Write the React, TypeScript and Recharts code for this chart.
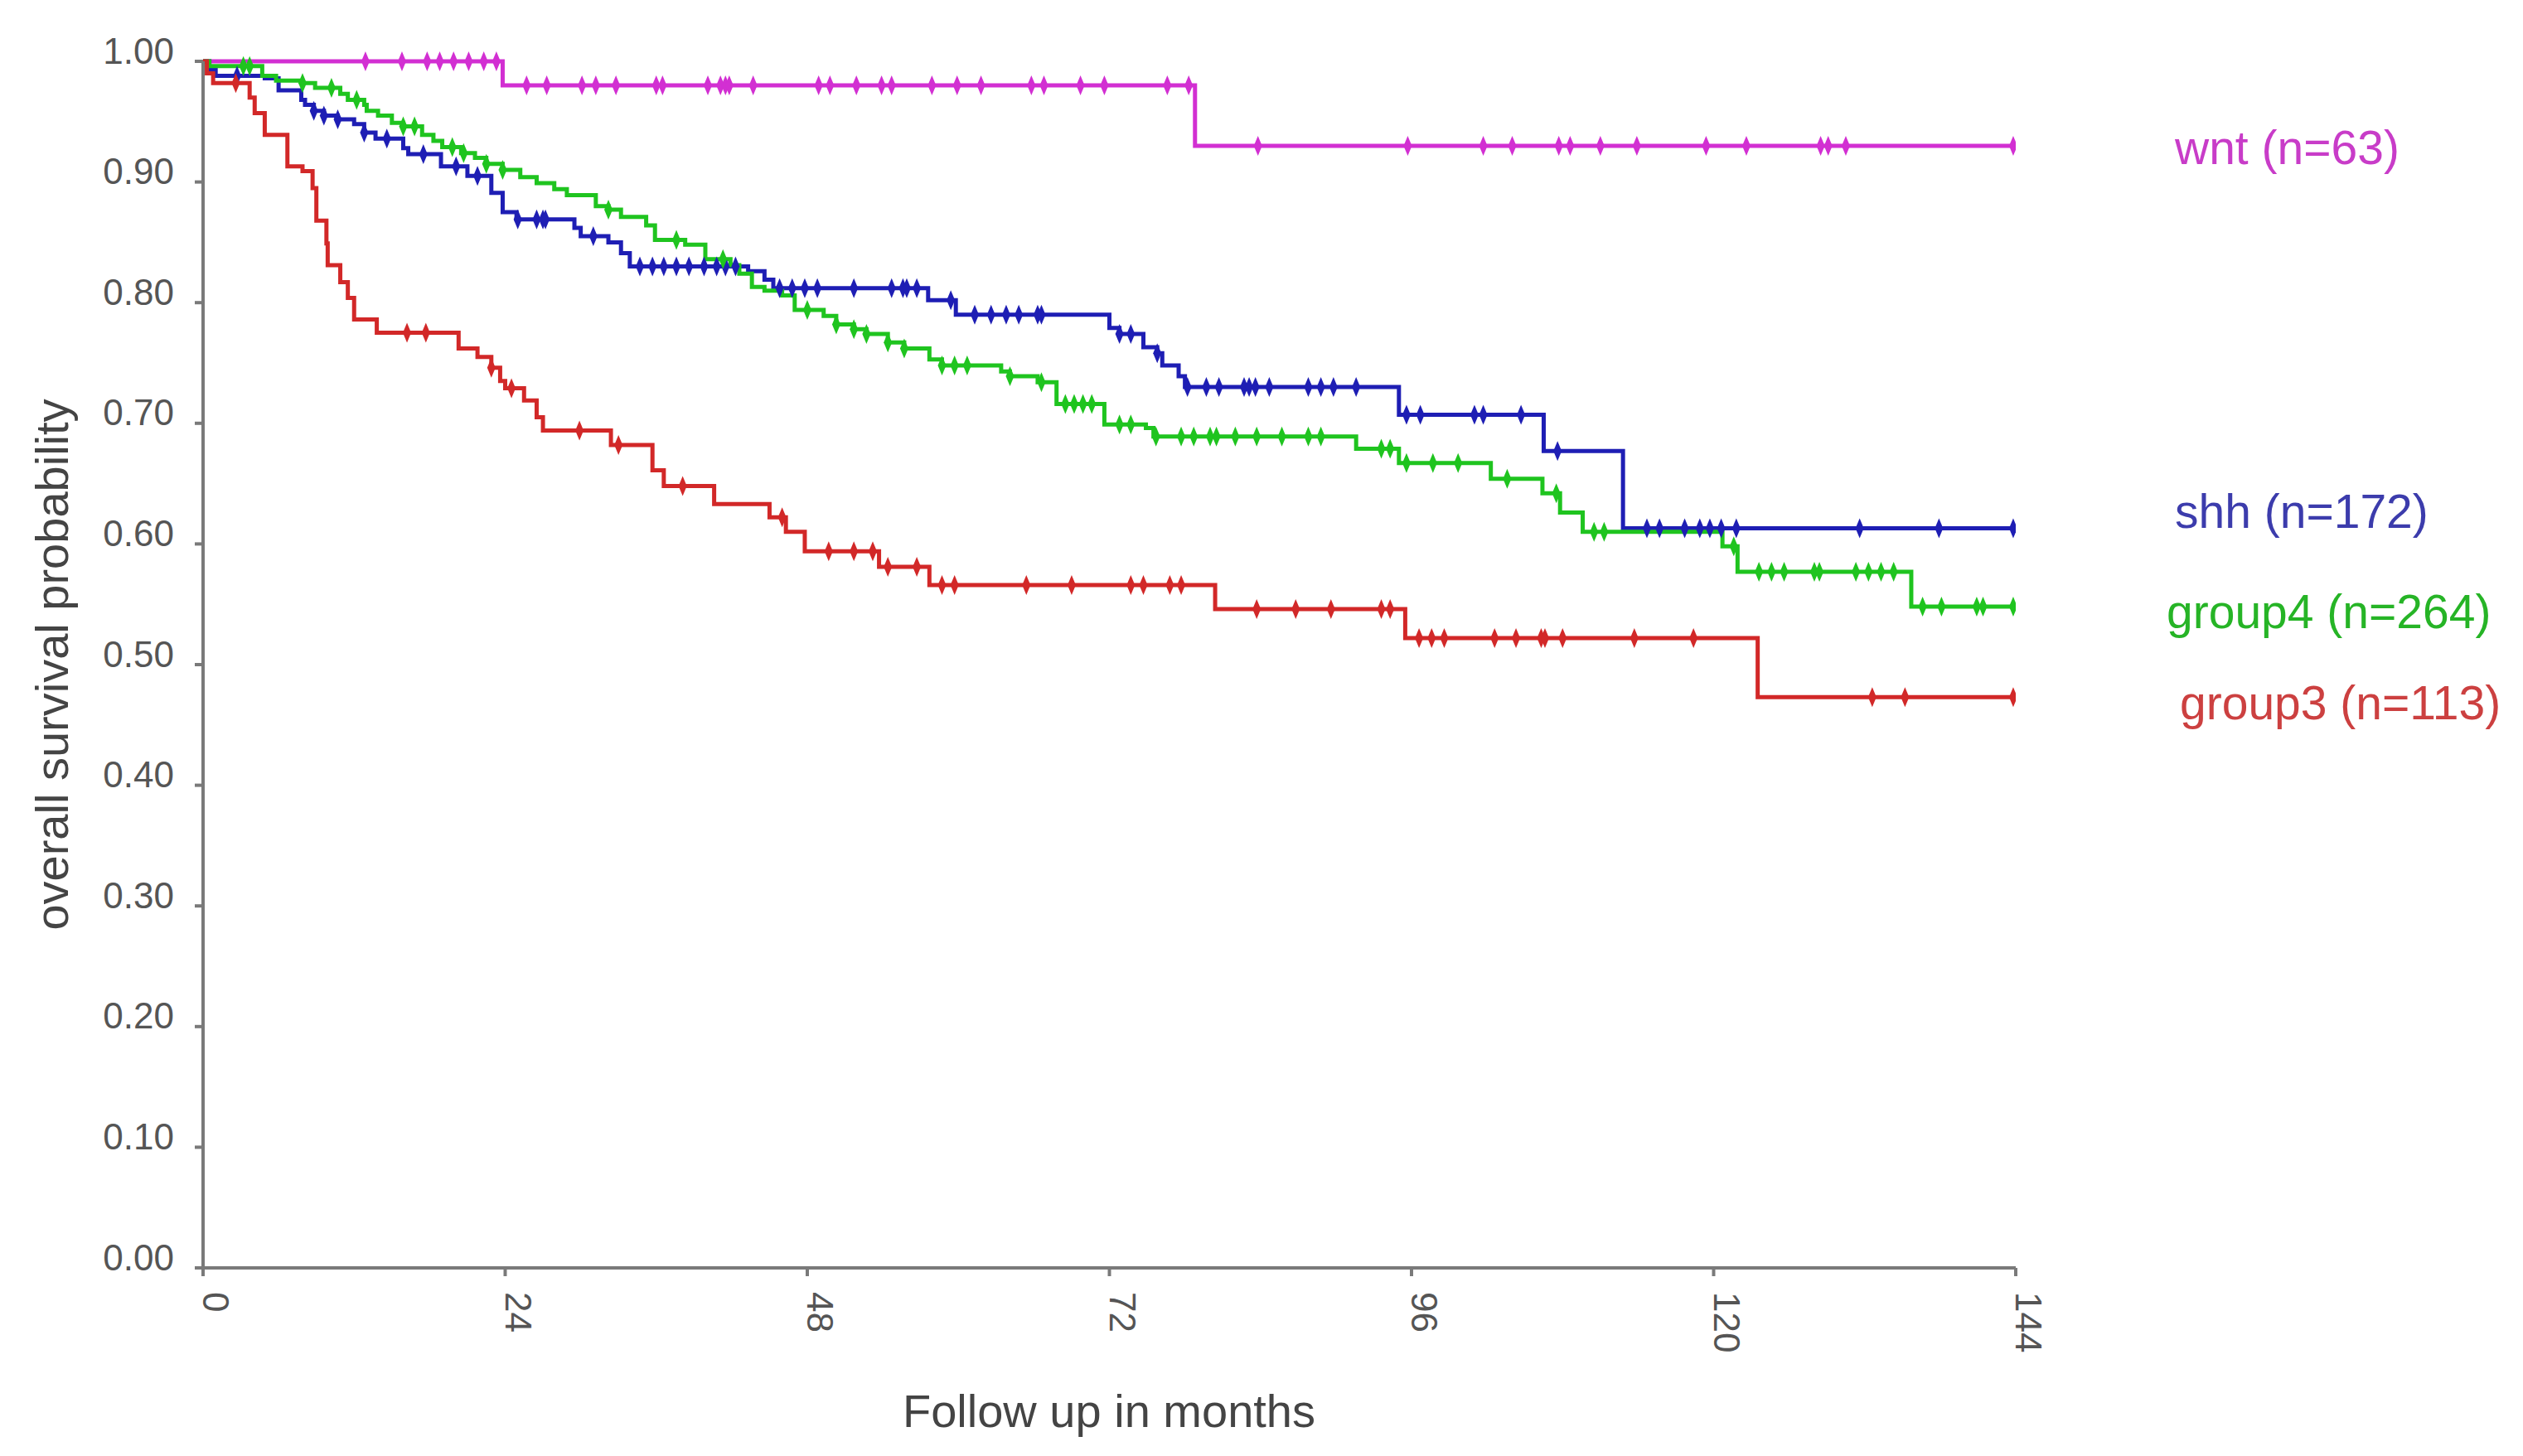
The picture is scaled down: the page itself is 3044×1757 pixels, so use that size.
import React from "react"
import { ComposedChart, Line, Scatter, XAxis, YAxis } from "recharts"

// step points: time (months) where survival changes, and the new value
const wntTimes = [0, 23.8, 78.8, 144]
const wntSurv = [1, 0.98, 0.93, 0.93]
const wntCensored = [
  12.9, 15.8, 17.8, 18.8, 19.9, 21.1, 22.3, 23.3, 25.7, 27.3, 30.1, 31.2, 32.8, 36.0, 36.5, 40.1, 41.1, 41.5,
  41.8, 43.7, 48.9, 49.8, 51.9, 53.9, 54.7, 57.9, 59.9, 61.8, 65.8, 66.8, 69.7, 71.6, 76.6, 78.3, 83.8, 95.7,
  101.7, 104.0, 107.7, 108.6, 111.0, 113.9, 119.4, 122.6, 128.5, 129.1, 130.5, 143.8,
]

const shhTimes = [
  0, 0.5, 1.0, 4.9, 6.0, 7.8, 8.1, 8.8, 9.6, 10.7, 12.0, 12.8, 13.7, 15.9, 16.3, 18.9, 21.0, 22.9, 23.8, 24.9,
  29.5, 30.0, 32.2, 33.2, 33.9, 43.3, 44.6, 45.3, 57.6, 59.8, 72.0, 72.8, 74.7, 75.8, 76.2, 77.5, 78.0, 95.0,
  106.5, 112.8, 144,
]
const shhSurv = [
  1, 0.993, 0.988, 0.986, 0.976, 0.968, 0.964, 0.959, 0.955, 0.952, 0.948, 0.941, 0.936, 0.928, 0.923, 0.913,
  0.905, 0.891, 0.875, 0.869, 0.862, 0.855, 0.85, 0.841, 0.83, 0.826, 0.819, 0.812, 0.802, 0.79, 0.779, 0.774,
  0.763, 0.758, 0.748, 0.739, 0.73, 0.707, 0.677, 0.613, 0.613,
]
const shhCensored = [
  2.7, 8.8, 9.6, 10.7, 12.8, 14.6, 17.5, 20.1, 21.8, 25.0, 26.5, 27.0, 27.2, 31.0, 34.7, 35.7, 36.6, 37.6, 38.6,
  39.8, 40.8, 41.5, 42.3, 45.8, 46.8, 47.8, 48.8, 51.7, 54.7, 55.6, 55.9, 56.7, 59.4, 61.3, 62.6, 63.8, 64.8,
  66.3, 66.6, 72.8, 73.7, 75.8, 78.2, 79.7, 80.7, 82.7, 83.1, 83.6, 84.7, 87.8, 88.8, 89.8, 91.6, 95.6, 96.7,
  101.0, 101.7, 104.7, 107.6, 114.7, 115.7, 117.7, 118.9, 119.7, 120.6, 121.8, 131.6, 137.9, 143.8,
]

const group4Times = [
  0, 0.5, 4.7, 5.8, 7.8, 8.9, 10.9, 11.5, 12.8, 13.0, 13.9, 15.0, 15.9, 17.4, 18.3, 19.0, 20.5, 21.6, 22.5, 23.8,
  25.2, 26.5, 27.9, 28.9, 31.2, 32.2, 33.2, 35.2, 35.9, 38.3, 39.9, 41.9, 42.6, 43.6, 44.6, 46.0, 47.0, 49.3,
  50.3, 51.7, 52.7, 54.4, 55.7, 57.7, 58.7, 63.4, 64.1, 66.3, 67.8, 71.6, 74.9, 75.5, 91.6, 95.0, 102.3, 106.4,
  107.8, 109.6, 120.7, 121.9, 135.7, 144,
]
const group4Surv = [
  1, 0.996, 0.988, 0.984, 0.982, 0.978, 0.973, 0.968, 0.964, 0.959, 0.955, 0.949, 0.946, 0.939, 0.934, 0.929,
  0.924, 0.92, 0.915, 0.91, 0.904, 0.899, 0.894, 0.889, 0.88, 0.877, 0.871, 0.864, 0.852, 0.848, 0.836, 0.831,
  0.824, 0.813, 0.81, 0.806, 0.794, 0.789, 0.782, 0.778, 0.774, 0.767, 0.762, 0.753, 0.748, 0.743, 0.739, 0.734,
  0.716, 0.699, 0.696, 0.689, 0.679, 0.667, 0.654, 0.642, 0.626, 0.61, 0.598, 0.577, 0.548, 0.548,
]
const group4Censored = [
  3.2, 3.7, 7.9, 10.2, 12.2, 15.9, 16.8, 19.8, 20.7, 22.5, 23.8, 32.2, 37.6, 41.3, 48.0, 50.3, 51.7, 52.7, 54.4,
  55.7, 58.7, 59.7, 60.7, 64.1, 66.6, 68.5, 69.2, 69.9, 70.6, 72.8, 73.7, 75.7, 77.7, 78.7, 80.0, 80.5, 82.0,
  83.7, 85.7, 87.8, 88.8, 93.6, 94.3, 95.6, 97.7, 99.7, 103.6, 107.5, 110.5, 111.3, 121.6, 123.6, 124.6, 125.6,
  128.0, 128.4, 131.3, 132.3, 133.3, 134.3, 136.6, 138.1, 140.9, 141.4, 143.8,
]

const group3Times = [
  0, 0.3, 0.8, 3.7, 4.1, 4.9, 6.7, 7.9, 8.7, 9.0, 9.8, 9.9, 10.9, 11.5, 12.0, 13.8, 20.3, 21.8, 22.9, 23.6, 24.0,
  25.5, 26.5, 27.0, 32.4, 35.7, 36.6, 40.6, 45.0, 46.3, 47.8, 53.7, 57.7, 80.4, 95.5, 123.5, 144,
]
const group3Surv = [
  1, 0.99, 0.982, 0.97, 0.957, 0.939, 0.913, 0.909, 0.895, 0.868, 0.849, 0.831, 0.817, 0.804, 0.786, 0.775, 0.762,
  0.755, 0.746, 0.735, 0.729, 0.719, 0.705, 0.694, 0.682, 0.661, 0.648, 0.633, 0.622, 0.61, 0.594, 0.581, 0.566,
  0.546, 0.522, 0.473, 0.473,
]
const group3Censored = [
  2.6, 16.2, 17.7, 22.9, 24.5, 29.9, 33.0, 38.1, 46.0, 49.7, 51.7, 53.2, 54.4, 56.7, 58.7, 59.7, 65.4, 69.0,
  73.7, 74.7, 76.8, 77.7, 83.7, 86.8, 89.6, 93.6, 94.3, 96.6, 97.6, 98.6, 102.6, 104.3, 106.3, 106.6, 108.0,
  113.7, 118.4, 132.6, 135.2, 143.8,
]

const xTicks = [0, 24, 48, 72, 96, 120, 144]
const yTicks = [0, 0.1, 0.2, 0.3, 0.4, 0.5, 0.6, 0.7, 0.8, 0.9, 1.0]

const FONT = "'Liberation Sans', Arial, sans-serif"

const toSteps = (times: number[], surv: number[]) => times.map((t, i) => ({ t, s: surv[i] }))

// survival value of the curve at a censoring time
const survAt = (times: number[], surv: number[], x: number) => {
  let v = surv[0]
  for (let i = 0; i < times.length; i++) if (times[i] <= x) v = surv[i]
  return v
}

const groups = [
  { key: "wnt", name: "wnt (n=63)", times: wntTimes, surv: wntSurv, cens: wntCensored, line: "#d22fd2", text: "#c83cc8", dx: 192, dy: 2 },
  { key: "shh", name: "shh (n=172)", times: shhTimes, surv: shhSurv, cens: shhCensored, line: "#1e1eb4", text: "#3c3cac", dx: 192, dy: -20 },
  { key: "group4", name: "group4 (n=264)", times: group4Times, surv: group4Surv, cens: group4Censored, line: "#1fc41f", text: "#26b426", dx: 182, dy: 6 },
  { key: "group3", name: "group3 (n=113)", times: group3Times, surv: group3Surv, cens: group3Censored, line: "#d22828", text: "#cc4040", dx: 198, dy: 7 },
]

function YTick({ x, y, payload }: any) {
  return (
    <text x={x} y={y - 13} textAnchor="end" dominantBaseline="central" fontSize={44} fill="#555" fontFamily={FONT}>
      {Number(payload.value).toFixed(2)}
    </text>
  )
}

function XTick({ x, y, payload }: any) {
  return (
    <text x={x} y={y} transform={`rotate(90 ${x} ${y})`} textAnchor="start" fontSize={44} fill="#555" fontFamily={FONT}>
      {payload.value}
    </text>
  )
}

export default function App() {
  return (
    <ComposedChart width={3028} height={1741} margin={{ top: 66, right: 604, bottom: 0, left: 0 }}>
      <XAxis
        type="number"
        dataKey="t"
        domain={[0, 144]}
        ticks={xTicks}
        allowDataOverflow
        height={219}
        stroke="#7a7a7a"
        strokeWidth={4}
        tickSize={10}
        tickMargin={19}
        tick={<XTick />}
        label={{
          content: () => (
            <text x={1330} y={1694} textAnchor="middle" dominantBaseline="central" fontSize={56} fill="#444" fontFamily={FONT}>
              Follow up in months
            </text>
          ),
        }}
      />
      <YAxis
        type="number"
        domain={[0, 1]}
        ticks={yTicks}
        width={237}
        stroke="#7a7a7a"
        strokeWidth={4}
        tickSize={10}
        tickMargin={25}
        tick={<YTick />}
        label={{
          content: () => (
            <text
              x={54}
              y={794}
              transform="rotate(-90 54 794)"
              textAnchor="middle"
              dominantBaseline="central"
              fontSize={56}
              fill="#444"
              fontFamily={FONT}
            >
              overall survival probability
            </text>
          ),
        }}
      />
      {groups.map((g) => {
        const steps = toSteps(g.times, g.surv)
        return (
          <Line
            key={g.key}
            data={steps}
            dataKey="s"
            type="stepAfter"
            stroke={g.line}
            strokeWidth={5}
            dot={false}
            isAnimationActive={false}
            label={(p: any) =>
              p.index === steps.length - 1 ? (
                <text
                  key={g.key + "-label"}
                  x={p.x + g.dx}
                  y={p.y + g.dy}
                  dominantBaseline="central"
                  fontSize={57}
                  fill={g.text}
                  fontFamily={FONT}
                >
                  {g.name}
                </text>
              ) : null
            }
          />
        )
      })}
      {groups.map((g) => (
        <Scatter
          key={g.key + "-cens"}
          data={g.cens.map((t) => ({ t, s: survAt(g.times, g.surv, t) }))}
          dataKey="s"
          isAnimationActive={false}
          shape={(p: any) => (
            <path
              d={`M${p.cx},${p.cy - 12} L${p.cx + 5},${p.cy} L${p.cx},${p.cy + 12} L${p.cx - 5},${p.cy} Z`}
              fill={g.line}
            />
          )}
        />
      ))}
    </ComposedChart>
  )
}
